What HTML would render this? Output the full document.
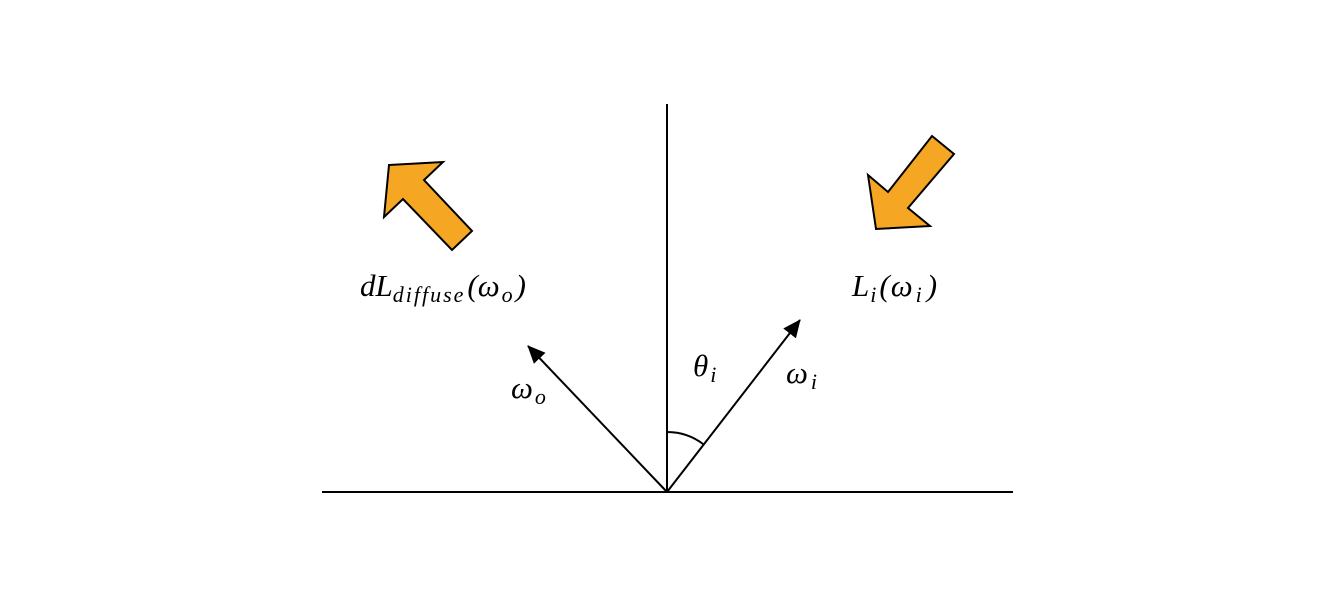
<!DOCTYPE html>
<html><head><style>body{margin:0;background:#fff}svg{display:block}text{font-family:"Liberation Serif",serif;font-style:italic;fill:#000}</style></head>
<body>
<svg width="1322" height="602" viewBox="0 0 1322 602" xmlns="http://www.w3.org/2000/svg">
<defs><marker id="a2" markerWidth="18" markerHeight="16" refX="17" refY="8" orient="auto" markerUnits="userSpaceOnUse"><path d="M0,0 L18,8 L0,16 z" fill="#000"/></marker></defs>
<line x1="667" y1="104" x2="667" y2="492" stroke="#000" stroke-width="2"/>
<line x1="322" y1="492" x2="1013" y2="492" stroke="#000" stroke-width="2"/>
<line x1="667" y1="492" x2="528" y2="346" stroke="#000" stroke-width="2" marker-end="url(#a2)"/>
<line x1="667" y1="492" x2="800" y2="320" stroke="#000" stroke-width="2" marker-end="url(#a2)"/>
<path d="M667,432 A60,60 0 0 1 703.7,444.5" fill="none" stroke="#000" stroke-width="2"/>
<polygon points="389,165 443,162 424,180 472,231 452,250 403,199 384,217" fill="#f5a623" stroke="#000" stroke-width="2"/>
<polygon points="932,136 954,154 908,208 930,226 876,229 868,175 888,192" fill="#f5a623" stroke="#000" stroke-width="2"/>
<text x="360" y="296" font-size="31">dL<tspan font-size="22" dy="6" letter-spacing="2">diffuse</tspan><tspan dy="-6" dx="2">(ω</tspan><tspan font-size="22" dy="6" dx="2">o</tspan><tspan dy="-6" dx="3">)</tspan></text>
<text x="852" y="296" font-size="31" letter-spacing="1">L<tspan font-size="22" dy="6">i</tspan><tspan dy="-6" dx="2">(ω</tspan><tspan font-size="22" dy="6" dx="2">i</tspan><tspan dy="-6" dx="4">)</tspan></text>
<text x="693" y="376" font-size="31">θ<tspan font-size="22" dy="6" dx="2">i</tspan></text>
<text x="786" y="383" font-size="31">ω<tspan font-size="22" dy="6" dx="3">i</tspan></text>
<text x="511" y="398" font-size="31">ω<tspan font-size="22" dy="6" dx="2">o</tspan></text>
</svg>
</body></html>
